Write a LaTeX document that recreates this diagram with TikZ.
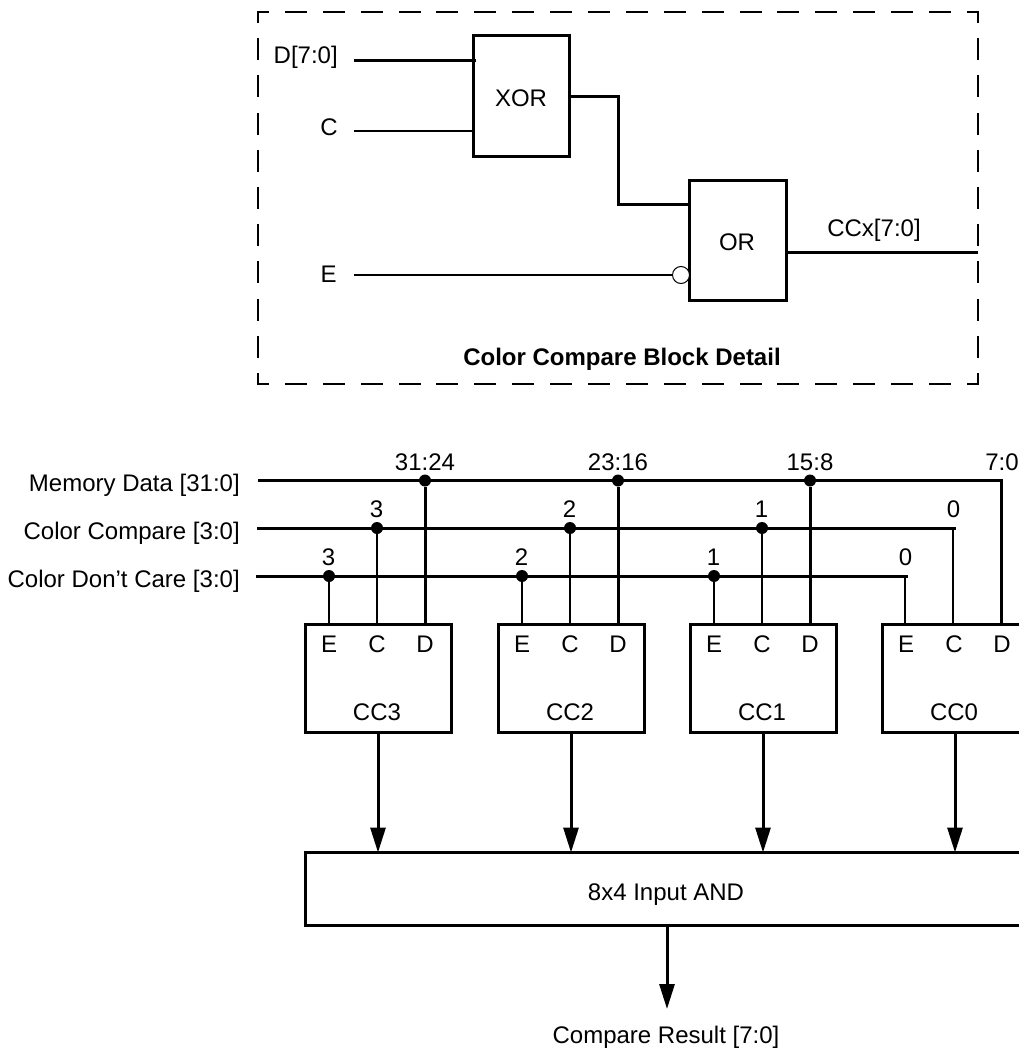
\documentclass[tikz,border=0pt]{standalone}
\usepackage{fontspec}
\setmainfont{Liberation Sans}
\usepackage{tikz}
\usetikzlibrary{arrows.meta}

\def\pxw{0.75pt}
\tikzset{
    block/.style={draw,line width=3*\pxw,outer sep=0pt,inner sep=0pt},
    lbl/.style={inner sep=0pt,anchor=base},
    lblright/.style={inner sep=0pt,anchor=base east},
    dashhoriz/.style={line width=2*\pxw,line cap=rect,
        dash pattern=on 20*\pxw off 17.89*\pxw,dash phase=10*\pxw},
    dashvert/.style={line width=2*\pxw,line cap=rect,
        dash pattern=on 20*\pxw off 17.2*\pxw,dash phase=10*\pxw},
    thickwire/.style={line width=3*\pxw},
    thinwire/.style={line width=2*\pxw},
    flow/.style={line width=3*\pxw,
        -{Stealth[length=25*\pxw,width=15*\pxw,inset=0pt]}},
    joint/.style={circle,fill=black,inner sep=0pt,minimum size=12*\pxw},
    invert/.style={circle,draw,fill=white,line width=1*\pxw,inner sep=0pt,
        minimum size=17*\pxw},
}

\begin{document}
\begin{tikzpicture}[x=0.75pt,y=-0.75pt,font=\fontsize{18}{20}\selectfont]
    \useasboundingbox (0,0) rectangle (1019,1049);

    % block detail
    \coordinate (detailnw) at (258,12);
    \coordinate (detailne) at (978,12);
    \coordinate (detailse) at (978,384);
    \coordinate (detailsw) at (258,384);
    \draw[dashhoriz] (detailnw) -- (detailne);
    \draw[dashhoriz] (detailsw) -- (detailse);
    \draw[dashvert] (detailnw) -- (detailsw);
    \draw[dashvert] (detailne) -- (detailse);

    \node[block,minimum width=96*\pxw,minimum height=120*\pxw] (xorbox) at (521.5,96) {};
    \node[lbl] (xorlabel) at (521,106) {XOR};
    \node[block,minimum width=97*\pxw,minimum height=120*\pxw] (orbox) at (738,240.5) {};
    \node[lbl] (orlabel) at (737,250) {OR};
    \node[lblright] (dlabel) at (338,64) {D[7:0]};
    \node[lblright] (clabel) at (338,135) {C};
    \node[lblright] (elabel) at (337,282) {E};
    \node[lbl] (ccxlabel) at (874,236) {CCx[7:0]};
    \node[lbl,font=\fontsize{18}{20}\selectfont\bfseries] (detailtitle) at (622,365.5) {Color Compare Block Detail};
    \node[invert] (orinv) at (681,275) {};
    \coordinate (dstart) at (354,60.5);
    \coordinate (dend) at (476,60.5);
    \coordinate (cstart) at (354,131);
    \coordinate (estart) at (354,275);
    \coordinate (xorbend) at (618,96.5);
    \coordinate (orin) at (618,204);
    \coordinate (ccxend) at (978,252);
    \draw[thickwire] (dstart) -- (dend);
    \draw[thinwire] (cstart) -- (cstart -| xorbox.west);
    \draw[thinwire] (estart) -- (orinv.west);
    \draw[thickwire] (xorbox.east |- xorbend) -- (xorbend) -- (orin) -- (orin -| orbox.west);
    \draw[thickwire] (ccxend -| orbox.east) -- (ccxend);

    % buses
    \node[lblright] (memlabel) at (240,491) {Memory Data [31:0]};
    \node[lblright] (cmplabel) at (240,539) {Color Compare [3:0]};
    \node[lblright] (dclabel) at (240,587) {Color Don’t Care [3:0]};
    \coordinate (memstart) at (258,480.5);
    \coordinate (cmpstart) at (257,528);
    \coordinate (cmpend) at (956,528);
    \coordinate (dcstart) at (256,576);
    \coordinate (dcend) at (908,576);

    \node[block,minimum width=722*\pxw,minimum height=73*\pxw] (andbox) at (666,889) {};
    \node[lbl] (andlabel) at (666,900.5) {8x4 Input AND};
    \node[lbl] (result) at (666,1043.5) {Compare Result [7:0]};
    \coordinate (resultend) at (667,1009);
    \draw[flow] (resultend |- andbox.south) -- (resultend);

    \newcommand{\drawcompare}[3]{%
        \node[block,minimum width=146*\pxw,minimum height=108*\pxw] (cc#1) at (#2+73,678) {};
        \node[lbl] (cclabel#1) at (#2+72,720.5) {CC#1};
        \node[lbl] (pine#1) at (#2+24,652.5) {E};
        \node[lbl] (pinc#1) at (#2+72,652.5) {C};
        \node[lbl] (pind#1) at (#2+120,652.5) {D};
        \node[lbl] (busnum#1) at (#2+120,470) {#3};
        \node[lbl] (cmpnum#1) at (#2+71.5,517) {#1};
        \node[lbl] (dcnum#1) at (#2+23.5,565) {#1};
        \ifnum#1>0
            \node[joint] (jointd#1) at (#2+120,480.5) {};
            \node[joint] (jointc#1) at (#2+72,528) {};
            \node[joint] (jointe#1) at (#2+24,576) {};
        \else
            \coordinate (jointd#1) at (#2+119.5,480.5);
            \coordinate (jointc#1) at (#2+71,528);
            \coordinate (jointe#1) at (#2+23,576);
        \fi
        \draw[thickwire] (jointd#1) -- (jointd#1 |- cc#1.north);
        \draw[thinwire] (jointc#1) -- (jointc#1 |- cc#1.north);
        \draw[thinwire] (jointe#1) -- (jointe#1 |- cc#1.north);
        \draw[flow] (cc#1.south) -- (cc#1.south |- andbox.north);
    }
    \drawcompare{3}{305}{31:24}
    \drawcompare{2}{498}{23:16}
    \drawcompare{1}{690}{15:8}
    \drawcompare{0}{882}{7:0}

    \draw[thickwire] (memstart) -- (jointd0) -- (jointd0 |- cc0.north);
    \draw[thickwire] (cmpstart) -- (cmpend);
    \draw[thickwire] (dcstart) -- (dcend);
\end{tikzpicture}
\end{document}
